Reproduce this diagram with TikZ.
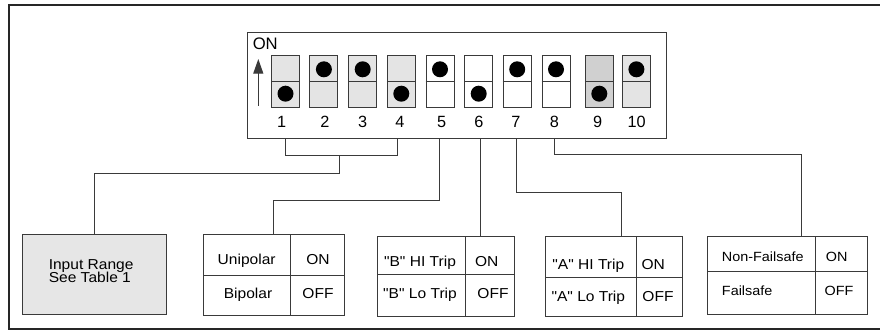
\documentclass[tikz,border=0pt]{standalone}
\usepackage{fontspec}
\setmainfont{Liberation Sans}
\newfontfamily\wide[FakeStretch=1.08]{Liberation Sans}
\usetikzlibrary{arrows.meta,fit,calc}
\definecolor{swl}{HTML}{E4E4E4}
\definecolor{swd}{HTML}{D0D0D0}
\definecolor{inl}{HTML}{E6E6E6}
\definecolor{ln}{HTML}{3A3A3A}
\begin{document}
\begin{tikzpicture}[x=0.75pt,y=-0.75pt,
  sw/.style={draw=ln,line width=0.75pt,minimum width=21pt,minimum height=38.6pt,inner sep=0pt},
  dot/.style={circle,fill=black,minimum size=12pt,inner sep=0pt},
  num/.style={anchor=base,inner sep=0pt,font=\fontsize{12.2}{12.2}\selectfont},
  tbl/.style={draw=ln,line width=0.75pt,inner sep=0pt},
  txt/.style={anchor=base,inner sep=0pt,font=\wide\fontsize{10.8}{10.8}\selectfont},
  stxt/.style={anchor=base,inner sep=0pt,font=\wide\fontsize{10}{10}\selectfont},
  conn/.style={draw=ln,line width=0.75pt},
  div/.style={draw=ln,line width=0.75pt}]
\useasboundingbox (0,0) rectangle (880,331);
% outer frame
\draw[line width=1.8pt,draw=black!85] (9,5) rectangle (890,329);
% switch box
\node[draw=ln,line width=0.75pt,inner sep=0pt,fit={(247,33) (666,139)}] (swbox) {};
\node[anchor=base west,inner sep=0pt,font=\fontsize{12.5}{12.5}\selectfont] (onlbl) at (252.5,50) {ON};
\coordinate (ar0) at (258.3,106);
\coordinate (ar1) at (258.3,59);
\draw[ln,line width=0.9pt,-{Triangle[length=11pt,width=7.5pt]}] (ar0) -- (ar1);
% switches
\foreach \i/\x/\c/\d in {1/285.5/swl/1,2/323.9/swl/-1,3/362.7/swl/-1,4/401.3/swl/1,5/440/white/-1,6/478.7/white/1,7/517.2/white/-1,8/556/white/-1,9/599.3/swd/1,10/636.4/swl/-1}{
  \node[sw,fill=\c] (s\i) at (\x,81.5) {};
  \draw[div] (s\i.west) -- (s\i.east);
  \node[dot] (d\i) at ($(s\i.center)+(0,{\d*12.2})$) {};
}
\foreach \i/\x in {1/281.7,2/325,3/362.7,4/400,5/441.7,6/479,7/516,8/554.3,9/597.7,10/636.7}{
  \node[num] (n\i) at (\x,127.3) {\i};
}
% result boxes
\node[tbl,fill=inl,fit={(22.7,234) (166.7,314)}] (inp) {};
\node[txt,anchor=base west] (inp1) at (48.5,269.3) {Input Range};
\node[txt,anchor=base west] (inp2) at (48.5,282) {See Table 1};

\node[tbl,fit={(203.3,234.7) (344.3,315)}] (uni) {};
\draw[div] (290,234.7) -- (290,315);
\draw[div] (203.3,275.7) -- (344.3,275.7);
\node[txt] (u1) at (246.7,264.3) {Unipolar};
\node[txt] (u2) at (318,264.3) {ON};
\node[txt] (u3) at (248,298) {Bipolar};
\node[txt] (u4) at (318,298) {OFF};

\node[tbl,fit={(377.7,236.7) (514,316.7)}] (bbox) {};
\draw[div] (465,236.7) -- (465,316.7);
\draw[div] (377.7,274.7) -- (514,274.7);
\node[txt] (b1) at (420,266.7) {"B" HI Trip};
\node[txt] (b2) at (486.7,266.7) {ON};
\node[txt] (b3) at (420,298.3) {"B" Lo Trip};
\node[txt] (b4) at (493,298.3) {OFF};

\node[tbl,fit={(545,236.7) (682.3,316.7)}] (abox) {};
\draw[div] (636.7,236.7) -- (636.7,316.7);
\draw[div] (545,277.3) -- (682.3,277.3);
\node[txt] (a1) at (588.3,269.3) {"A" HI Trip};
\node[txt] (a2) at (653.3,269.3) {ON};
\node[txt] (a3) at (588.3,301.7) {"A" Lo Trip};
\node[txt] (a4) at (658,301.7) {OFF};

\node[tbl,fit={(707.7,236) (867.7,314.3)}] (nfbox) {};
\draw[div] (815.7,236) -- (815.7,314.3);
\draw[div] (707.7,271) -- (867.7,271);
\node[stxt,anchor=base west] (f1) at (721.7,261.7) {Non-Failsafe};
\node[stxt] (f2) at (836.7,261.7) {ON};
\node[stxt,anchor=base west] (f3) at (721.7,295.7) {Failsafe};
\node[stxt] (f4) at (839,295.7) {OFF};

% connectors
\coordinate (p1) at (285.7,0 |- swbox.south);
\coordinate (p4) at (397.7,0 |- swbox.south);
\coordinate (p5) at (439.3,0 |- swbox.south);
\coordinate (p6) at (480,0 |- swbox.south);
\coordinate (p7) at (516,0 |- swbox.south);
\coordinate (p8) at (554.3,0 |- swbox.south);
\coordinate (m14) at (339.3,155.7);
\draw[conn] (p1) -- (285.7,155.7) -| (p4);
\draw[conn] (m14) -- (339.3,174) -| (inp.north);
\draw[conn] (p5) -- (439.3,200.7) -| (uni.north);
\draw[conn] (p6) -- (p6 |- bbox.north);
\draw[conn] (p7) -- (516,192.3) -| (621.7,0 |- abox.north);
\draw[conn] (p8) -- (554.3,155) -| (801.7,0 |- nfbox.north);
\end{tikzpicture}
\end{document}
